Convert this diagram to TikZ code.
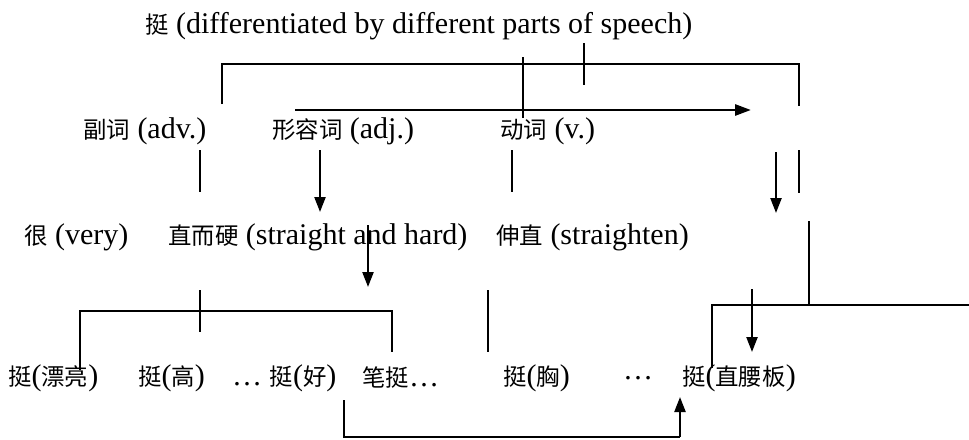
\documentclass[tikz,border=0pt]{standalone}
\usepackage{fontspec}
\setmainfont{Liberation Serif}
\newfontfamily\cjkf[Scale=0.78]{Noto Sans CJK SC}
\newcommand\zh[1]{{\cjkf #1}}
\usetikzlibrary{arrows.meta}
\begin{document}
\begin{tikzpicture}[x=1pt,y=-1pt,
  lbl/.style={anchor=west,inner sep=0pt,font=\fontsize{30}{36}\selectfont},
  ln/.style={line width=1.8pt},
  thinln/.style={line width=1.3pt},
  arr/.style={line width=2.3pt,-{Triangle[length=15pt,width=11pt]}},
  bigarr/.style={line width=2.8pt,-{Triangle[length=16pt,width=11pt]}},
]
\useasboundingbox (0,0) rectangle (969,439);
% texts
\node[lbl] (title) at (145,26) {\zh{挺} (differentiated by different parts of speech)};
\node[lbl] (adv) at (83,131) {\zh{副词} (adv.)};
\node[lbl] (adj) at (272,131) {\zh{形容词} (adj.)};
\node[lbl] (verb) at (500,131) {\zh{动词} (v.)};
\node[lbl] (very) at (24,237) {\zh{很} (very)};
\node[lbl] (sh) at (168,237) {\zh{直而硬} (straight and hard)};
\node[lbl] (st) at (496,237) {\zh{伸直} (straighten)};
\node[lbl] (t1) at (8,378) {\zh{挺}(\zh{漂亮})};
\node[lbl] (t2) at (138,378) {\zh{挺}(\zh{高})};
\node[lbl] (t3) at (232,378) {… \zh{挺}(\zh{好})};
\node[lbl] (t4) at (362,378) {\zh{笔挺}…};
\node[lbl] (t5) at (503,378) {\zh{挺}(\zh{胸})};
\node[lbl] (t6) at (623,378) {…};
\node[lbl] (t7) at (682,378) {\zh{挺}(\zh{直腰板})};
% coordinates
\coordinate (bl) at (222,104); \coordinate (bl2) at (222,64);
\coordinate (br2) at (799,64); \coordinate (br) at (799,106);
\coordinate (tk1) at (584,43); \coordinate (tk2) at (584,85);
\coordinate (tl1) at (523,57); \coordinate (tl2) at (523,118);
\coordinate (ma1) at (295,110); \coordinate (ma2) at (751,110);
\coordinate (a1) at (200,150); \coordinate (a2) at (200,192);
\coordinate (b1) at (320,150); \coordinate (b2) at (320,212);
\coordinate (c1) at (512,150); \coordinate (c2) at (512,192);
\coordinate (d1) at (776,152); \coordinate (d2) at (776,213);
\coordinate (e1) at (799,150); \coordinate (e2) at (799,193);
\coordinate (f1) at (368,225); \coordinate (f2) at (368,287);
\coordinate (g1) at (809,221); \coordinate (g2) at (809,305);
\coordinate (h1) at (712,368); \coordinate (h2) at (712,305); \coordinate (h3) at (969,305);
\coordinate (i1) at (200,290); \coordinate (i2) at (200,332);
\coordinate (j1) at (80,370); \coordinate (j2) at (80,311);
\coordinate (j3) at (392,311); \coordinate (j4) at (392,352);
\coordinate (k1) at (488,290); \coordinate (k2) at (488,352);
\coordinate (m1) at (752,289); \coordinate (m2) at (752,352);
\coordinate (n1) at (344,400); \coordinate (n2) at (344,437);
\coordinate (n3) at (680,437); \coordinate (n4) at (680,397);
% connectors
\draw[ln] (bl) -- (bl2) -- (br2) -- (br);
\draw[ln] (tk1) -- (tk2);
\draw[thinln] (tl1) -- (tl2);
\draw[bigarr] (ma1) -- (ma2);
\draw[ln] (a1) -- (a2);
\draw[arr] (b1) -- (b2);
\draw[ln] (c1) -- (c2);
\draw[arr] (d1) -- (d2);
\draw[ln] (e1) -- (e2);
\draw[arr] (f1) -- (f2);
\draw[ln] (g1) -- (g2);
\draw[ln] (h1) -- (h2) -- (h3);
\draw[ln] (i1) -- (i2);
\draw[ln] (j1) -- (j2) -- (j3) -- (j4);
\draw[ln] (k1) -- (k2);
\draw[arr] (m1) -- (m2);
\draw[ln] (n1) -- (n2) -- (n3);
\draw[arr] (n3) -- (n4);
\end{tikzpicture}
\end{document}
